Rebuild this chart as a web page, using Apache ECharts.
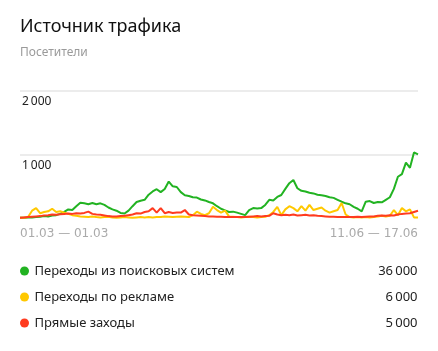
<!DOCTYPE html>
<html>
<head>
<meta charset="utf-8">
<script src="https://cdn.jsdelivr.net/npm/echarts@6/dist/echarts.min.js"></script>
<style>
  html, body { margin: 0; padding: 0; background: #fff; }
  #chart { width: 438px; height: 351px; }
</style>
</head>
<body>
<div id="chart"></div>
<script>
// visitors per day (01.03 .. 17.06)
var searchVisits = [
  20, 20, 25, 25, 30, 35, 45, 40, 55, 60,
  80, 110, 150, 140, 200, 255, 245, 230, 250, 230,
  245, 220, 180, 150, 130, 95, 85, 130, 200, 265,
  285, 300, 380, 430, 465, 420, 470, 585, 510, 500,
  420, 370, 360, 340, 335, 305, 290, 265, 245, 200,
  160, 135, 110, 115, 100, 80, 60, 140, 170, 165,
  170, 220, 300, 290, 345, 375, 470, 560, 610, 480,
  440, 430, 410, 400, 380, 370, 360, 340, 330, 300,
  270, 245, 230, 190, 160, 120, 270, 280, 250, 265,
  260, 300, 340, 470, 660, 700, 880, 800, 1040, 1010
];
var adVisits = [
  20, 20, 30, 130, 170, 90, 110, 120, 160, 110,
  120, 100, 80, 60, 50, 40, 35, 30, 40, 30,
  25, 30, 35, 25, 20, 25, 30, 25, 20, 25,
  30, 25, 30, 25, 30, 30, 40, 35, 30, 35,
  40, 35, 30, 60, 115, 80, 60, 90, 190, 140,
  100, 130, 40, 35, 30, 25, 30, 35, 30, 25,
  30, 35, 60, 110, 190, 60, 150, 200, 170, 120,
  200, 130, 220, 140, 160, 180, 130, 100, 120, 140,
  250, 70, 30, 25, 30, 25, 30, 25, 30, 40,
  50, 40, 50, 140, 60, 170, 120, 150, 25, 25
];
var directVisits = [
  20, 25, 30, 35, 40, 45, 55, 60, 70, 65,
  75, 80, 85, 80, 90, 85, 95, 115, 80, 70,
  65, 55, 45, 40, 40, 45, 50, 60, 70, 90,
  85, 110, 120, 170, 100, 170, 90, 110, 95, 100,
  100, 140, 70, 60, 55, 50, 45, 40, 40, 35,
  35, 30, 30, 30, 30, 30, 30, 35, 40, 45,
  40, 45, 50, 90, 70, 60, 65, 60, 70, 55,
  60, 65, 55, 60, 50, 45, 40, 35, 35, 30,
  30, 30, 30, 30, 35, 30, 35, 40, 40, 50,
  55, 50, 60, 55, 70, 80, 85, 90, 110, 130
];

var seriesNames = ['Переходы из поисковых систем', 'Переходы по рекламе', 'Прямые заходы'];
var seriesTotals = [36000, 6000, 5000];
var seriesColors = ['#22b322', '#ffc800', '#ff3b1f'];
var periodLabels = ['01.03 — 01.03', '11.06 — 17.06'];

var days = searchVisits.map(function (v, i) { return i; });

function fmt(n)
{
  return String(n).replace(/\B(?=(\d{3})+(?!\d))/g, '\u2009');
}

var chart = echarts.init(document.getElementById('chart'));
var font = 'Noto Sans';

chart.setOption({
  animation: false,
  color: seriesColors,
  title: [{
    text: 'Источник трафика',
    left: 20, top: 15, padding: 0,
    textStyle: {fontFamily: font, fontSize: 18, fontWeight: 'normal', color: '#111', lineHeight: 24}
  }, {
    text: 'Посетители',
    left: 20, top: 46, padding: 0,
    textStyle: {fontFamily: font, fontSize: 12, fontWeight: 'normal', color: '#9a9a9a', lineHeight: 14}
  }],
  grid: {left: 20, right: 20, top: 91, bottom: 132},
  xAxis: {
    type: 'category',
    data: days,
    boundaryGap: false,
    axisLine: {show: false},
    axisTick: {show: false},
    axisLabel: {
      interval: function (i) { return i === 0 || i === days.length - 1; },
      formatter: function (v, i) { return i === 0 ? periodLabels[0] : periodLabels[1]; },
      alignMinLabel: 'left',
      alignMaxLabel: 'right',
      margin: 9,
      fontFamily: 'DejaVu Sans', fontSize: 12, color: '#aaaaaa'
    }
  },
  yAxis: {
    type: 'value',
    min: 0, max: 2000, interval: 1000,
    axisLine: {show: false},
    axisTick: {show: false},
    splitLine: {lineStyle: {color: ['rgba(0,0,0,0)', '#ececec', '#ececec'], width: 2}},
    axisLabel: {
      inside: true,
      margin: 2,
      verticalAlign: 'top',
      padding: [5, 0, 0, 0],
      fontFamily: font, fontSize: 12, color: '#222',
      formatter: function (v) { return v === 0 ? '' : fmt(v); }
    }
  },
  legend: {
    orient: 'vertical',
    left: 20, top: 263,
    padding: 0,
    icon: 'circle',
    itemWidth: 10, itemHeight: 9,
    itemGap: 10,
    data: seriesNames,
    formatter: function (name) {
      var k = seriesNames.indexOf(name);
      return '{n|' + name + '}{v|' + fmt(seriesTotals[k]) + '}';
    },
    textStyle: {
      fontFamily: font, fontSize: 13, color: '#222', lineHeight: 16,
      rich: {
        n: {width: 323, fontFamily: font, fontSize: 13, color: '#222'},
        v: {width: 60, align: 'right', fontFamily: font, fontSize: 13, color: '#222'}
      }
    }
  },
  series: [
    {name: seriesNames[0], type: 'line', data: searchVisits},
    {name: seriesNames[1], type: 'line', data: adVisits},
    {name: seriesNames[2], type: 'line', data: directVisits}
  ].map(function (s) {
    s.symbol = 'none';
    s.lineStyle = {width: 2};
    return s;
  })
});
</script>
</body>
</html>
